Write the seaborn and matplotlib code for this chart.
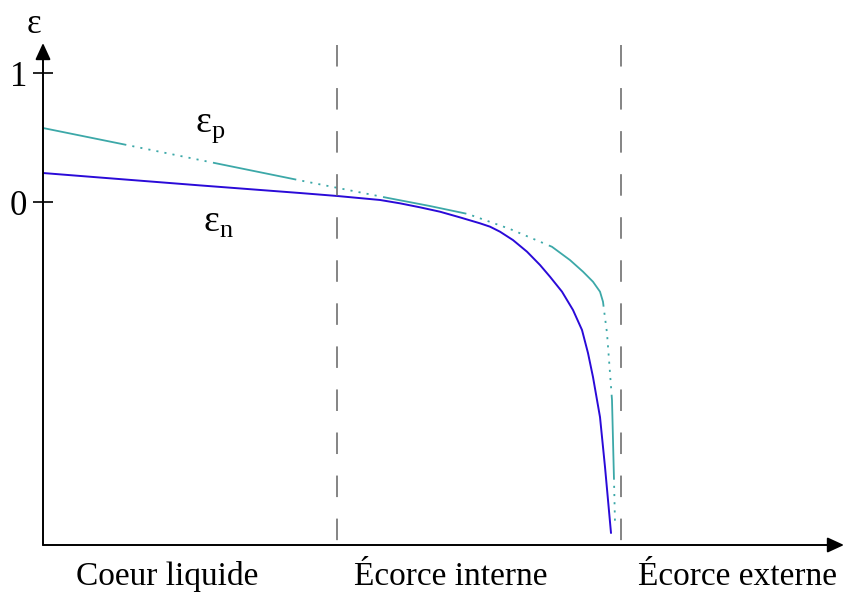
import pandas as pd
import seaborn as sns
import matplotlib.pyplot as plt
import matplotlib

# position along the radius (arbitrary units) and epsilon values
r_n = [0, 57, 157, 257, 294, 337, 357, 377, 397, 417, 437, 447, 457, 470, 484, 497, 507,
       519, 530, 539, 545, 550, 557, 562, 568]
eps_n = [0.225, 0.190, 0.129, 0.070, 0.047, 0.016, -0.010, -0.041, -0.075, -0.119, -0.165,
         -0.191, -0.230, -0.295, -0.385, -0.488, -0.579, -0.695, -0.837, -0.992, -1.171,
         -1.357, -1.667, -2.054, -2.566]

r_p = [0, 84, 172, 255, 295, 344, 387, 425, 467, 509, 527, 540, 550, 557, 560, 561, 564,
       567, 569, 571, 572]
eps_p = [0.574, 0.442, 0.302, 0.171, 0.109, 0.033, -0.031, -0.093, -0.209, -0.347, -0.450,
         -0.540, -0.618, -0.695, -0.773, -0.837, -1.016, -1.326, -1.535, -2.155, -2.488]

boundaries = [294, 578]
zones = ["Coeur liquide", "Écorce interne", "Écorce externe"]
zone_centers = [124, 408, 694]
y_ticks = [0, 1]

sns.set_theme(style="white")
plt.rcParams['font.family'] = ['Liberation Serif', 'DejaVu Serif']
plt.rcParams['mathtext.fontset'] = 'custom'
plt.rcParams['mathtext.rm'] = 'Liberation Serif'
plt.rcParams['lines.scale_dashes'] = False
plt.rcParams['text.color'] = 'black'

fig = plt.figure(figsize=(8.44, 5.92), dpi=100)
ax = fig.add_axes([43 / 844, 47 / 592, 801 / 844, 502 / 592])

df_n = pd.DataFrame({"r": r_n, "eps": eps_n})
df_p = pd.DataFrame({"r": r_p, "eps": eps_p})

# epsilon_p : long dash followed by a row of dots
dots = []
for _ in range(10):
    dots += [4.4, 1.5]
sns.lineplot(data=df_p, x="r", y="eps", sort=False, color="#3ca8a8", lw=1.3,
             linestyle=(0, [61.2] + dots + [4.7]), ax=ax)
sns.lineplot(data=df_n, x="r", y="eps", sort=False, color="#2a0ad8", lw=1.4, ax=ax)

for b in boundaries:
    ax.plot([b, b], [1.217, -2.659], color="#707070", lw=1.2, linestyle=(0, (15.5, 15.5)))

ax.set_xlim(0, 801)
ax.set_ylim(-2.659, 1.233)
for s in ax.spines.values():
    s.set_visible(False)

# axes with arrows
arrow = dict(arrowstyle="-|>,head_length=0.5,head_width=0.23", color="black", lw=1.4,
             mutation_scale=20, shrinkA=0, shrinkB=0)
ax.annotate("", xy=(0, 1), xytext=(0, 0), xycoords="axes fraction", arrowprops=arrow)
ax.annotate("", xy=(1, 0), xytext=(0, 0), xycoords="axes fraction", arrowprops=arrow)

ax.set_xticks([])
ax.set_yticks(y_ticks)
ax.set_yticklabels([str(t) for t in y_ticks])
ax.tick_params(axis="y", direction="inout", length=15, width=1.2, color="black",
               labelcolor="black", labelsize=25, pad=4, left=True)
ax.set_xlabel("")
ax.set_ylabel("")

ax.text(-9, 1.38, "ε", fontsize=25, ha="center", va="center", clip_on=False)
ax.text(152, 0.543, r"ε$_\mathregular{p}$", fontsize=27, ha="left", va="baseline")
ax.text(160, -0.233, r"ε$_\mathregular{n}$", fontsize=27, ha="left", va="baseline")

for name, c in zip(zones, zone_centers):
    ax.text(c, -2.969, name, fontsize=24, ha="center", va="baseline", clip_on=False)

fig.savefig("out.png", dpi=100)
